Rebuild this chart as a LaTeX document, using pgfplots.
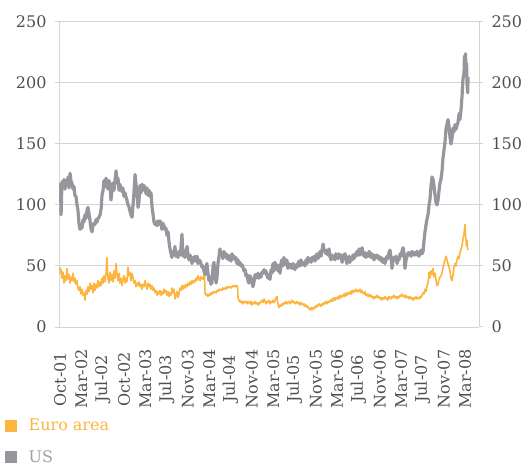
\documentclass[border=0pt]{standalone}
\usepackage{fontspec}
\setmainfont{DejaVu Serif}
\usepackage{pgfplots}
\pgfplotsset{compat=1.18}
\usepackage{pgfplotstable}

\definecolor{usgray}{RGB}{150,151,156}
\definecolor{euorange}{RGB}{252,181,62}
\definecolor{tickgray}{RGB}{80,80,83}
\definecolor{gridgray}{RGB}{212,212,212}
\definecolor{legus}{RGB}{160,160,165}

% x = position in label units (0 = Oct-01, 19 = Mar-08)
\pgfplotstableread{
x y
0.00 118
0.03 112
0.05 92
0.07 104
0.09 119
0.14 116
0.19 121
0.23 113
0.28 120
0.33 117
0.38 123
0.42 114
0.47 126
0.52 119
0.56 118
0.61 113
0.66 115
0.70 108
0.75 107
0.80 100
0.84 96
0.89 85
0.94 80
0.98 84
1.03 81
1.08 88
1.12 86
1.17 92
1.22 89
1.27 96
1.31 98
1.36 93
1.41 87
1.45 81
1.50 78
1.55 83
1.59 85
1.64 84
1.69 88
1.74 86
1.78 89
1.83 90
1.88 92
1.93 97
1.97 108
2.02 112
2.06 120
2.11 115
2.16 122
2.20 117
2.25 113
2.30 120
2.35 116
2.39 104
2.44 112
2.49 118
2.53 112
2.58 120
2.63 128
2.68 118
2.72 122
2.77 112
2.81 117
2.86 113
2.91 111
2.95 114
3.00 107
3.05 110
3.09 107
3.14 104
3.19 100
3.23 99
3.28 95
3.33 92
3.38 90
3.42 99
3.47 110
3.52 125
3.56 118
3.61 110
3.66 98
3.70 102
3.75 116
3.80 110
3.85 117
3.89 112
3.94 116
3.99 114
4.04 109
4.08 114
4.13 108
4.18 112
4.22 107
4.27 110
4.32 98
4.36 93
4.41 86
4.46 84
4.50 86
4.55 83
4.60 87
4.64 84
4.69 87
4.74 85
4.78 80
4.83 85
4.88 83
4.92 80
4.97 81
5.02 75
5.07 78
5.11 70
5.16 64
5.21 60
5.25 57
5.30 62
5.35 59
5.39 66
5.44 58
5.49 60
5.53 57
5.58 62
5.63 59
5.67 64
5.72 76
5.77 58
5.82 61
5.86 57
5.91 62
5.96 66
6.01 58
6.05 55
6.10 59
6.15 56
6.19 52
6.24 57
6.29 54
6.33 58
6.38 54
6.43 58
6.47 52
6.52 55
6.57 54
6.61 52
6.66 49
6.71 50
6.75 46
6.80 43
6.85 48
6.89 52
6.94 44
6.99 38
7.04 41
7.08 35
7.13 37
7.18 50
7.22 53
7.27 44
7.32 36
7.36 40
7.41 52
7.46 58
7.50 64
7.55 60
7.60 61
7.64 56
7.69 62
7.74 58
7.78 60
7.83 56
7.88 59
7.92 55
7.97 58
8.02 54
8.07 60
8.11 56
8.16 58
8.21 55
8.25 57
8.30 52
8.35 55
8.40 51
8.44 53
8.49 50
8.54 51
8.58 49
8.63 46
8.68 47
8.72 42
8.77 43
8.82 38
8.86 36
8.91 42
8.96 40
9.00 37
9.05 33
9.10 37
9.15 43
9.19 40
9.24 42
9.29 44
9.33 40
9.38 43
9.43 41
9.47 45
9.52 44
9.57 47
9.62 44
9.66 46
9.71 42
9.76 40
9.80 43
9.85 39
9.90 47
9.94 44
9.99 52
10.04 46
10.08 53
10.13 48
10.18 51
10.22 46
10.27 50
10.32 44
10.36 52
10.41 55
10.46 50
10.50 57
10.55 53
10.60 51
10.64 55
10.69 48
10.74 52
10.79 49
10.83 51
10.88 48
10.93 52
10.97 50
11.02 47
11.07 51
11.12 49
11.16 52
11.21 54
11.26 50
11.30 55
11.35 52
11.40 51
11.45 53
11.49 50
11.54 55
11.59 52
11.63 57
11.68 54
11.73 56
11.78 53
11.82 57
11.87 55
11.92 58
11.96 54
12.01 57
12.05 60
12.10 56
12.15 59
12.20 62
12.24 58
12.29 63
12.34 68
12.38 64
12.43 62
12.48 60
12.52 63
12.57 59
12.62 64
12.66 58
12.71 55
12.76 59
12.80 56
12.85 58
12.90 55
12.94 60
12.99 58
13.04 56
13.08 60
13.13 57
13.18 59
13.23 53
13.27 56
13.32 59
13.37 60
13.41 56
13.46 52
13.51 56
13.56 58
13.60 53
13.65 57
13.70 55
13.74 59
13.79 56
13.84 60
13.88 58
13.93 62
13.98 59
14.03 64
14.07 59
14.12 62
14.17 65
14.21 60
14.26 58
14.31 61
14.35 57
14.40 60
14.45 58
14.50 62
14.54 59
14.59 57
14.63 60
14.68 58
14.73 55
14.77 59
14.82 57
14.87 59
14.92 56
14.96 58
15.01 55
15.06 57
15.10 54
15.15 53
15.20 56
15.24 52
15.29 55
15.34 58
15.38 56
15.43 61
15.48 63
15.52 58
15.57 48
15.62 55
15.66 57
15.71 55
15.76 58
15.81 52
15.85 56
15.90 55
15.95 60
15.99 58
16.04 62
16.09 65
16.14 60
16.18 48
16.23 55
16.28 58
16.33 61
16.37 59
16.42 61
16.47 58
16.51 62
16.56 60
16.61 59
16.65 61
16.70 59
16.74 62
16.79 61
16.84 58
16.89 61
16.93 63
16.98 60
17.03 62
17.07 70
17.12 78
17.17 84
17.21 88
17.26 92
17.31 100
17.35 104
17.40 115
17.45 123
17.50 121
17.54 116
17.59 108
17.64 102
17.68 100
17.73 104
17.78 112
17.82 118
17.87 121
17.92 128
17.96 138
18.01 145
18.06 152
18.11 163
18.15 166
18.20 170
18.25 164
18.29 156
18.34 150
18.39 155
18.43 163
18.48 160
18.53 166
18.57 162
18.62 165
18.67 168
18.72 175
18.76 170
18.81 178
18.86 190
18.90 203
18.95 208
18.97 222
19.00 218
19.02 224
19.04 212
19.07 216
19.09 200
19.12 192
19.14 205
}\ustable

\pgfplotstableread{
x y
0.00 49
0.03 44
0.05 47
0.09 40
0.14 45
0.19 36
0.23 42
0.28 38
0.33 48
0.38 39
0.42 43
0.47 36
0.52 41
0.56 38
0.61 44
0.66 37
0.70 40
0.75 35
0.80 38
0.84 32
0.89 30
0.94 33
0.98 27
1.03 31
1.08 26
1.12 28
1.17 22
1.22 30
1.27 27
1.31 33
1.36 29
1.41 36
1.45 31
1.50 34
1.55 28
1.59 36
1.64 30
1.69 35
1.74 32
1.78 38
1.83 33
1.88 37
1.93 34
1.97 40
2.02 36
2.06 42
2.11 37
2.16 44
2.20 57
2.25 40
2.30 36
2.35 45
2.39 38
2.44 43
2.49 37
2.53 46
2.58 40
2.63 52
2.68 42
2.72 38
2.77 44
2.81 36
2.86 40
2.91 34
2.95 39
3.00 42
3.05 36
3.09 40
3.14 37
3.19 49
3.23 42
3.28 45
3.33 38
3.38 44
3.42 41
3.47 36
3.52 38
3.56 33
3.61 36
3.66 34
3.70 37
3.75 33
3.80 35
3.85 31
3.89 35
3.94 33
3.99 38
4.04 34
4.08 31
4.13 36
4.18 33
4.22 35
4.27 31
4.32 34
4.36 30
4.41 32
4.46 28
4.50 30
4.55 26
4.60 29
4.64 27
4.69 30
4.74 26
4.78 29
4.83 27
4.88 31
4.92 28
4.97 30
5.02 26
5.07 29
5.11 25
5.16 28
5.21 26
5.25 32
5.30 28
5.35 31
5.39 23
5.44 26
5.49 29
5.53 24
5.58 27
5.63 32
5.67 30
5.72 34
5.77 31
5.82 34
5.86 32
5.91 35
5.96 33
6.01 36
6.05 34
6.10 37
6.15 35
6.19 38
6.24 36
6.29 38
6.33 37
6.38 40
6.43 38
6.47 42
6.52 40
6.57 38
6.61 41
6.66 40
6.71 39
6.75 43
6.78 42
6.80 28
6.85 26
6.89 27
6.94 25
6.99 27
7.04 26
7.08 28
7.13 27
7.18 29
7.22 28
7.27 29
7.32 28
7.36 30
7.41 29
7.46 31
7.50 30
7.55 31
7.60 30
7.64 32
7.69 31
7.74 32
7.78 31
7.83 33
7.88 32
7.92 33
7.97 33
8.02 32
8.07 33
8.11 34
8.16 33
8.21 34
8.25 33
8.30 34
8.33 33
8.35 24
8.40 21
8.44 22
8.49 20
8.54 21
8.58 19
8.63 21
8.68 20
8.72 21
8.77 19
8.82 21
8.86 20
8.91 19
8.96 21
9.00 18
9.05 20
9.10 19
9.15 21
9.19 19
9.24 20
9.29 18
9.33 20
9.38 19
9.43 21
9.47 22
9.52 20
9.57 23
9.62 21
9.66 19
9.71 21
9.76 20
9.80 22
9.85 19
9.90 21
9.94 20
9.99 22
10.04 20
10.08 21
10.13 24
10.18 25
10.22 19
10.27 16
10.32 18
10.36 17
10.41 19
10.46 18
10.50 20
10.55 19
10.60 21
10.64 19
10.69 20
10.74 21
10.79 19
10.83 20
10.88 22
10.93 20
10.97 21
11.02 19
11.07 20
11.12 21
11.16 19
11.21 20
11.26 18
11.30 20
11.35 19
11.40 18
11.45 19
11.49 17
11.54 18
11.59 16
11.63 17
11.68 15
11.73 14
11.78 16
11.82 14
11.87 16
11.92 15
11.96 17
12.01 16
12.05 18
12.10 17
12.15 19
12.20 18
12.24 17
12.29 19
12.34 18
12.38 20
12.43 19
12.48 21
12.52 19
12.57 21
12.62 20
12.66 22
12.71 21
12.76 23
12.80 21
12.85 24
12.90 22
12.94 24
12.99 23
13.04 25
13.08 23
13.13 26
13.18 24
13.23 26
13.27 25
13.32 27
13.37 25
13.41 28
13.46 26
13.51 28
13.56 27
13.60 29
13.65 27
13.70 30
13.74 28
13.79 30
13.84 29
13.88 31
13.93 29
13.98 30
14.03 29
14.07 31
14.12 28
14.17 30
14.21 28
14.26 27
14.31 29
14.35 26
14.40 27
14.45 25
14.50 27
14.54 25
14.59 26
14.63 24
14.68 25
14.73 23
14.77 25
14.82 24
14.87 26
14.92 24
14.96 25
15.01 23
15.06 24
15.10 22
15.15 24
15.20 23
15.24 25
15.29 23
15.34 24
15.38 22
15.43 25
15.48 24
15.52 23
15.57 25
15.62 24
15.66 26
15.71 24
15.76 25
15.81 23
15.85 25
15.90 24
15.95 26
15.99 25
16.04 27
16.09 25
16.14 26
16.18 24
16.23 26
16.28 24
16.33 25
16.37 23
16.42 25
16.47 23
16.51 24
16.56 22
16.61 24
16.65 23
16.70 25
16.74 23
16.79 24
16.84 23
16.89 25
16.93 24
16.98 26
17.03 28
17.07 27
17.12 31
17.17 29
17.21 33
17.26 36
17.31 45
17.35 40
17.40 46
17.45 43
17.50 48
17.54 41
17.59 44
17.64 38
17.68 34
17.73 35
17.78 39
17.82 41
17.87 42
17.92 44
17.96 48
18.01 52
18.06 55
18.11 58
18.15 55
18.20 52
18.25 49
18.29 46
18.34 40
18.39 38
18.43 42
18.48 49
18.53 52
18.57 50
18.62 55
18.67 58
18.72 56
18.76 61
18.81 64
18.86 67
18.90 72
18.95 76
18.97 80
19.00 84
19.02 75
19.04 72
19.07 66
19.09 71
19.12 64
19.14 63
}\eutable

\pgfplotsset{
  common/.style={
    scale only axis, width=420bp, height=305bp,
    at={(59bp,139bp)}, anchor=south west,
    xmin=-0.047, xmax=19.653, ymin=0, ymax=250,
    ytick={0,50,...,250},
    tick label style={font=\fontsize{16bp}{19bp}\selectfont, text=tickgray},
    /pgf/number format/assume math mode=true,
    axis line style={gridgray, line width=1bp},
    major tick style={gridgray, line width=1bp},
    tick align=outside, major tick length=4bp,
  },
}

\begin{document}
\begin{tikzpicture}
\useasboundingbox (0,0) rectangle (523bp,466bp);
\begin{axis}[common,
  axis x line*=bottom, axis y line*=left,
  ymajorgrids=true, grid style={gridgray, line width=1bp},
  xtick={0,...,19},
  xticklabels={Oct-01,Mar-02,Jul-02,Oct-02,Mar-03,Jul-03,Nov-03,Mar-04,Jul-04,Nov-04,Mar-05,Jul-05,Nov-05,Mar-06,Jul-06,Nov-06,Mar-07,Jul-07,Nov-07,Mar-08},
  xtick style={draw=none},
  xticklabel style={yshift=-48bp, rotate=90, anchor=center},
  yticklabel style={xshift=-5bp},
  legend style={at={(rel axis cs:-0.129,-0.298)}, anchor=north west, draw=none, fill=none,
    font=\fontsize{16bp}{19bp}\selectfont, inner sep=0pt, row sep=16bp,
    nodes={inner sep=1bp}},
  legend cell align=left,
  legend image code/.code={\fill[#1, draw=none] (0bp,-6bp) rectangle (12bp,6bp); \path (21bp,0bp);},
]
\addplot[euorange, line width=1.6bp, line join=round] table {\eutable};
\addlegendentry{\textcolor{euorange}{Euro area}}
\addplot[usgray, line width=3.2bp, line join=round] table {\ustable};
\addlegendentry{\textcolor{legus}{US}}
\end{axis}
\begin{axis}[common,
  axis x line=none, axis y line*=right,
  yticklabel style={xshift=5bp},
]
\end{axis}
\end{tikzpicture}
\end{document}
